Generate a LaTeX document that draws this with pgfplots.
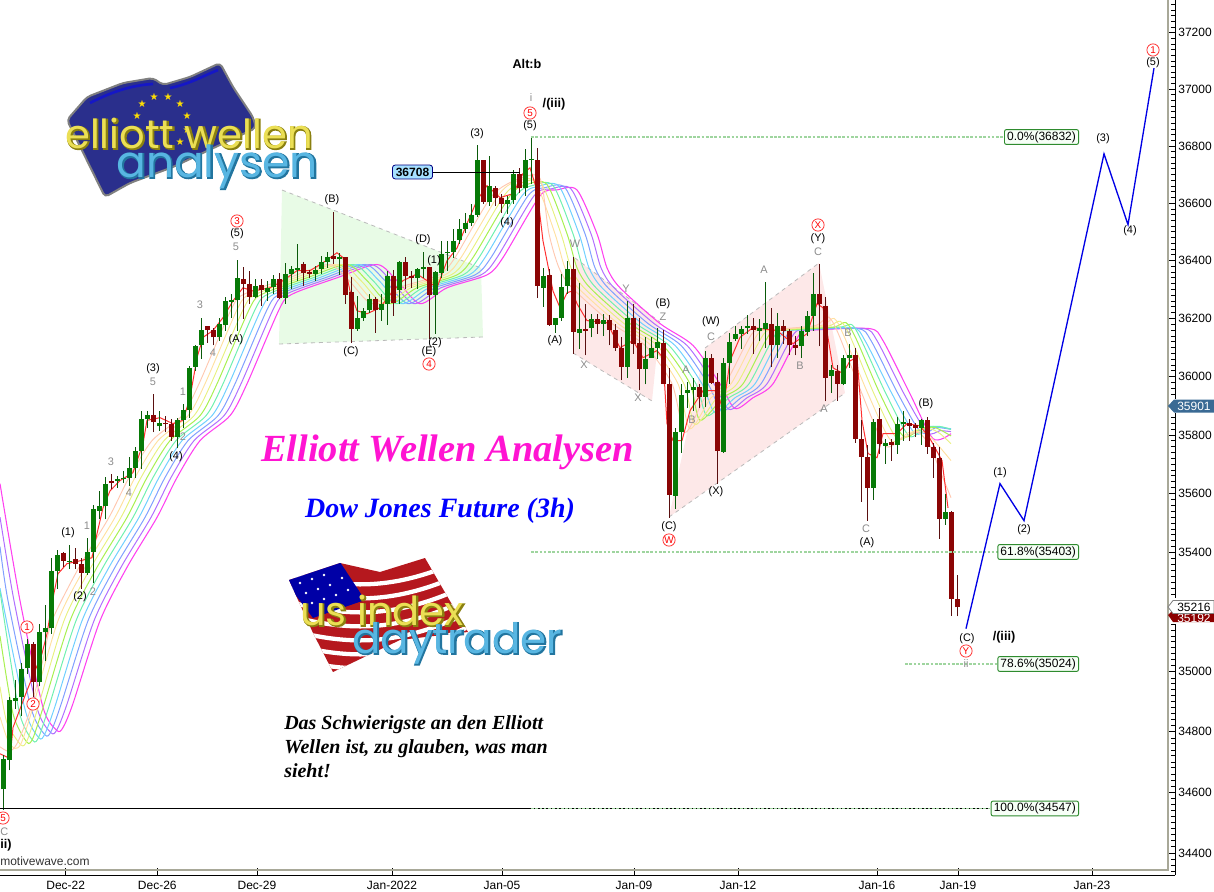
\documentclass[border=0pt]{standalone}
\usepackage{pgfplots}
\usepackage{pgfplotstable}
\usepackage{fontspec}
\pgfplotsset{compat=1.18}
\setmainfont{Liberation Sans}
\newfontfamily\timesf{Liberation Serif}
\newfontfamily\logof{Poppins}
\newfontfamily\logofat[FakeBold=4]{Poppins}
\newfontfamily\symf{DejaVu Sans}
\definecolor{upbody}{HTML}{077A07}
\definecolor{upwick}{HTML}{0A5A0A}
\definecolor{dnbody}{HTML}{8B0505}
\definecolor{dnwick}{HTML}{5A1010}
\definecolor{rb0}{HTML}{FF40F0}
\definecolor{rb1}{HTML}{B070FF}
\definecolor{rb2}{HTML}{80A0FF}
\definecolor{rb3}{HTML}{70D0FF}
\definecolor{rb4}{HTML}{70F0B0}
\definecolor{rb5}{HTML}{A8F050}
\definecolor{rb6}{HTML}{E8F080}
\definecolor{rb7}{HTML}{FFE0A0}
\definecolor{rb8}{HTML}{FFC8B0}
\definecolor{fast}{HTML}{FF3030}
\definecolor{fibg}{HTML}{9FD59F}
\definecolor{fibb}{HTML}{2E8B2E}
\definecolor{tri}{HTML}{E8FBE6}
\definecolor{chan}{HTML}{FDE8E8}
\definecolor{grl}{HTML}{8C8C8C}
\definecolor{axg}{HTML}{A8A898}
\definecolor{titlemag}{HTML}{FF14D2}
\definecolor{lastblue}{HTML}{3A6A94}
\definecolor{lgyel}{HTML}{EBDF55}
\definecolor{lgyeld}{HTML}{8A8010}
\definecolor{lgsky}{HTML}{58B6E2}
\definecolor{lgskyd}{HTML}{22759F}
\definecolor{euflag}{HTML}{2A2F8C}
\definecolor{stripe}{HTML}{B5181E}
% candles: x high bodytop bodybottom low
\pgfplotstableread{
x h t b l
3.5 34722 34709 34609 34543
9.5 34914 34904 34705 34672
15.5 34971 34911 34901 34877
21.5 35028 35008 34914 34851
27.5 35111 35094 35011 34994
39.5 35158 35131 34967 34951
45.5 35225 35148 35131 35034
51.5 35383 35339 35148 35128
57.5 35410 35393 35339 35278
69.5 35427 35373 35370 35346
87.5 35451 35404 35333 35326
93.5 35562 35546 35404 35296
99.5 35610 35559 35542 35515
105.5 35658 35634 35559 35512
117.5 35661 35651 35641 35620
123.5 35678 35654 35648 35637
129.5 35726 35688 35654 35627
135.5 35760 35746 35688 35654
141.5 35883 35852 35746 35685
147.5 35883 35869 35852 35825
159.5 35883 35842 35828 35814
177.5 35859 35849 35794 35753
183.5 35907 35886 35849 35825
189.5 36037 36030 35886 35859
195.5 36106 36103 36034 36020
201.5 36203 36161 36106 36061
219.5 36203 36182 36134 36123
225.5 36275 36261 36178 36158
231.5 36285 36264 36258 36203
237.5 36403 36341 36264 36158
255.5 36337 36313 36275 36270
267.5 36330 36306 36292 36261
273.5 36351 36337 36309 36285
285.5 36392 36354 36272 36251
291.5 36382 36372 36354 36303
297.5 36458 36375 36368 36330
315.5 36382 36368 36354 36330
321.5 36417 36396 36372 36354
327.5 36431 36413 36396 36375
339.5 36427 36413 36406 36351
357.5 36278 36203 36165 36158
363.5 36237 36227 36203 36192
369.5 36285 36268 36230 36220
381.5 36285 36247 36230 36192
387.5 36365 36348 36251 36178
399.5 36399 36396 36299 36251
417.5 36375 36372 36341 36303
423.5 36431 36379 36372 36341
435.5 36365 36361 36282 36147
441.5 36469 36424 36358 36341
447.5 36469 36431 36427 36365
453.5 36511 36469 36431 36410
459.5 36546 36511 36473 36459
465.5 36567 36532 36511 36494
471.5 36598 36560 36532 36521
477.5 36802 36749 36560 36553
489.5 36766 36661 36605 36591
507.5 36626 36609 36598 36563
513.5 36714 36703 36612 36598
525.5 36791 36752 36654 36626
531.5 36830 36756 36752 36668
543.5 36375 36348 36306 36240
555.5 36203 36203 36178 36151
561.5 36354 36309 36203 36192
567.5 36399 36372 36313 36285
579.5 36323 36165 36151 36096
591.5 36216 36199 36168 36134
603.5 36216 36196 36182 36140
627.5 36261 36203 36034 35996
645.5 36134 36061 36024 35972
651.5 36134 36099 36065 36065
657.5 36168 36120 36099 36061
675.5 35825 35808 35593 35549
681.5 35975 35938 35808 35739
687.5 35982 35955 35945 35893
693.5 35993 35965 35955 35883
705.5 36089 36065 35931 35896
723.5 36065 36048 35743 35739
729.5 36151 36120 36048 35975
735.5 36175 36147 36127 36123
741.5 36175 36165 36147 36096
747.5 36213 36175 36168 36147
759.5 36199 36168 36158 36123
765.5 36327 36185 36165 36099
777.5 36220 36175 36106 36065
801.5 36175 36158 36103 36065
807.5 36227 36209 36154 36140
813.5 36358 36285 36209 36158
831.5 36041 36021 36003 35945
843.5 36072 36065 35976 35969
849.5 36110 36075 36065 36030
873.5 35852 35845 35620 35579
885.5 35787 35773 35763 35702
897.5 35862 35838 35767 35736
903.5 35883 35845 35838 35780
921.5 35855 35849 35825 35767
945.5 35600 35539 35515 35495
}\upbars
\pgfplotstableread{
x h t b l
33.5 35101 35094 34967 34917
63.5 35404 35400 35373 35350
75.5 35417 35377 35363 35346
81.5 35383 35363 35333 35278
111.5 35668 35644 35637 35617
153.5 35941 35869 35845 35808
165.5 35866 35842 35838 35808
171.5 35852 35838 35794 35780
207.5 36175 36172 36161 36116
213.5 36168 36161 36134 36106
243.5 36379 36337 36320 36199
249.5 36365 36320 36275 36251
261.5 36337 36316 36296 36244
279.5 36358 36337 36272 36268
303.5 36396 36389 36358 36313
309.5 36368 36361 36354 36341
333.5 36570 36417 36406 36389
345.5 36413 36413 36282 36251
351.5 36344 36292 36165 36116
375.5 36275 36268 36230 36151
393.5 36368 36348 36254 36209
405.5 36413 36396 36348 36303
411.5 36365 36348 36341 36306
429.5 36379 36379 36282 36130
483.5 36749 36749 36605 36598
495.5 36661 36654 36619 36591
501.5 36630 36619 36598 36567
519.5 36724 36703 36654 36637
537.5 36795 36752 36313 36271
549.5 36372 36351 36178 36175
573.5 36413 36372 36154 36079
585.5 36251 36165 36158 36072
597.5 36216 36199 36182 36147
609.5 36213 36196 36161 36106
615.5 36182 36161 36099 36089
621.5 36134 36099 36034 35986
633.5 36251 36203 36113 36079
639.5 36203 36116 36024 35952
663.5 36161 36116 35975 35972
669.5 36030 35975 35596 35518
699.5 35975 35965 35931 35893
711.5 36079 36065 35979 35975
717.5 36013 35982 35746 35634
753.5 36203 36175 36161 36079
771.5 36237 36182 36106 36034
783.5 36196 36175 36158 36113
789.5 36165 36158 36106 36075
795.5 36140 36106 36099 36072
819.5 36389 36285 36247 36103
825.5 36275 36244 35996 35914
837.5 36041 36020 35976 35917
855.5 36099 36075 35787 35773
861.5 35849 35787 35726 35573
867.5 35767 35726 35620 35508
879.5 35893 35852 35770 35736
891.5 35787 35777 35767 35712
909.5 35855 35842 35831 35780
915.5 35842 35835 35825 35794
927.5 35862 35849 35760 35736
933.5 35773 35760 35722 35654
939.5 35760 35722 35515 35447
951.5 35542 35539 35245 35188
957.5 35326 35245 35215 35185
}\dnbars
% turn two columns of a candle table into broken vertical segments
\newcommand\segs[4]{%
  \pgfplotstablegetrowsof{#1}\pgfmathtruncatemacro\nr{\pgfplotsretval-1}%
  \gdef#4{}%
  \pgfplotsforeachungrouped \i in {0,...,\nr}{%
    \pgfplotstablegetelem{\i}{x}\of{#1}\let\cx\pgfplotsretval
    \pgfplotstablegetelem{\i}{#2}\of{#1}\let\ca\pgfplotsretval
    \pgfplotstablegetelem{\i}{#3}\of{#1}\let\cb\pgfplotsretval
    \xdef#4{#4(\cx,\ca)(\cx,\cb)(\cx,nan)}%
  }}
\segs{\upbars}{l}{h}{\upwickc}
\segs{\dnbars}{l}{h}{\dnwickc}
\segs{\upbars}{b}{t}{\upbodyc}
\segs{\dnbars}{b}{t}{\dnbodyc}
\newcommand\candleplot[3]{\edef\tmp{\noexpand\addplot[#1,line width=#2,unbounded coords=jump,forget plot] coordinates {#3};}\tmp}
% logo text: a heavy copy in the dark colour, the light one on top
\newcommand\outl[6]{%
  \node[anchor=base west,inner sep=0,text=#6,font=\logofat\fontsize{#3}{#3}\selectfont] at (#1+0.8,#2+1) {#4};
  \node[anchor=base west,inner sep=0,text=#5,font=\logof\fontsize{#3}{#3}\selectfont] at (#1,#2) {#4};}
\tikzset{fibline/.style={fibg,dash pattern=on 2pt off 1.2pt,line width=1.5pt}}
\begin{document}
\begin{tikzpicture}
\path[use as bounding box] (0,0) rectangle (910.5pt,-669pt);
\begin{scope}[x=0.75pt,y=-0.75pt]
  % wave structure shading, behind the chart
  \fill[tri] (282,190) -- (481,268) -- (483,337) -- (279,344) -- cycle;
  \draw[grl!60,dashed,line width=.6pt] (282,190) -- (481,268);
  \draw[grl!60,dashed,line width=.6pt] (279,344) -- (483,337);
  \fill[chan] (575,258) -- (660,322) -- (652,401) -- (573,353) -- cycle;
  \draw[grl!60,dashed,line width=.6pt] (575,258) -- (660,322);
  \draw[grl!60,dashed,line width=.6pt] (573,353) -- (652,401);
  \fill[chan] (669,517) -- (705,348) -- (819,263) -- (845,393) -- cycle;
  \draw[grl!60,dashed,line width=.6pt] (705,348) -- (819,263);
  \draw[grl!60,dashed,line width=.6pt] (669,517) -- (845,393);
\end{scope}
\begin{axis}[
  at={(0pt,-656.6pt)}, anchor=south west,
  scale only axis, width=881.25pt, height=656.25pt,
  % the price scale of the platform is logarithmic
  y coord trafo/.code={\begingroup\pgfkeys{/pgf/fpu=true,/pgf/fpu/output format=fixed}\pgfmathparse{10485*ln(#1/34326)}\pgfmathsmuggle\pgfmathresult\endgroup},
  xmin=0, xmax=1175, ymin=34326, ymax=37314,
  axis x line=bottom, axis y line=right,
  axis line style={-,black,line width=.75pt},
  tick align=inside, tick style={black,line width=.6pt},
  major tick length=5.25pt, minor tick length=2.8pt,
  scaled ticks=false,
  xtick={65.7,157.3,257,392,502,634,738,877,958,1092},
  xticklabels={Dec-22,Dec-26,Dec-29,Jan-2022,Jan-05,Jan-09,Jan-12,Jan-16,Jan-19,Jan-23},
  ytick={34400,34600,34800,35000,35200,35400,35600,35800,36000,36200,36400,36600,36800,37000,37200},
  yticklabels={34400,34600,34800,35000,35200,35400,35600,35800,36000,36200,36400,36600,36800,37000,37200},
  minor ytick={34340,34360,34380,34420,34440,34460,34480,34500,34520,34540,34560,34580,34620,34640,34660,34680,34700,34720,34740,34760,34780,34820,34840,34860,34880,34900,34920,34940,34960,34980,35020,35040,35060,35080,35100,35120,35140,35160,35180,35220,35240,35260,35280,35300,35320,35340,35360,35380,35420,35440,35460,35480,35500,35520,35540,35560,35580,35620,35640,35660,35680,35700,35720,35740,35760,35780,35820,35840,35860,35880,35900,35920,35940,35960,35980,36020,36040,36060,36080,36100,36120,36140,36160,36180,36220,36240,36260,36280,36300,36320,36340,36360,36380,36420,36440,36460,36480,36500,36520,36540,36560,36580,36620,36640,36660,36680,36700,36720,36740,36760,36780,36820,36840,36860,36880,36900,36920,36940,36960,36980,37020,37040,37060,37080,37100,37120,37140,37160,37180,37220,37240,37260,37280,37300},
  tick label style={font=\fontsize{9}{10}\selectfont},
  xticklabel style={yshift=-0.6pt},
  yticklabel style={xshift=-1pt},
  clip=true,
]
% ribbon, slowest first
\addplot[rb0,line width=.8pt,smooth,tension=.45] coordinates {(0,35634)(20,35238)(43,34881)(57,34804)(63,34814)(73,34894)(100,35171)(127,35350)(157,35519)(177,35654)(200,35780)(230,35866)(247,35975)(280,36237)(293,36285)(337,36341)(377,36386)(397,36330)(420,36251)(447,36306)(487,36351)(503,36410)(540,36626)(557,36647)(577,36647)(597,36493)(607,36375)(620,36306)(660,36182)(693,36106)(720,35975)(735,35890)(753,35927)(773,35975)(800,36147)(817,36161)(870,36165)(883,36123)(910,35941)(933,35787)(951,35804)};
\addplot[rb1,line width=.75pt,smooth,tension=.45] coordinates {(0,35520)(14,35238)(37,34880)(51,34797)(57,34808)(67,34892)(94,35171)(121,35350)(151,35519)(171,35654)(194,35780)(224,35866)(241,35975)(274,36237)(287,36285)(331,36341)(371,36386)(391,36330)(414,36251)(441,36306)(481,36351)(497,36410)(534,36626)(551,36650)(571,36650)(591,36493)(601,36375)(614,36306)(654,36182)(687,36106)(714,35975)(729,35887)(747,35927)(767,35975)(794,36147)(811,36161)(864,36165)(877,36123)(904,35941)(927,35808)(940,35814)(951,35811)};
\addplot[rb2,line width=.75pt,smooth,tension=.45] coordinates {(0,35420)(8,35238)(31,34880)(45,34790)(51,34800)(61,34890)(88,35171)(115,35350)(145,35519)(165,35654)(188,35780)(218,35866)(235,35975)(268,36237)(281,36285)(325,36341)(365,36386)(385,36330)(408,36251)(435,36306)(475,36351)(491,36410)(528,36626)(545,36654)(565,36654)(585,36493)(595,36375)(608,36306)(648,36182)(681,36106)(708,35975)(722,35883)(741,35927)(761,35975)(788,36147)(805,36161)(858,36165)(871,36123)(898,35941)(921,35808)(936,35825)(951,35818)};
\addplot[rb3,line width=.75pt,smooth,tension=.45] coordinates {(0,35280)(25,34875)(39,34780)(45,34795)(55,34885)(82,35171)(109,35350)(139,35519)(159,35654)(182,35780)(212,35866)(229,35975)(262,36237)(275,36285)(319,36341)(359,36386)(379,36330)(402,36251)(429,36306)(469,36351)(485,36410)(522,36626)(539,36660)(559,36660)(579,36493)(589,36375)(602,36306)(642,36182)(675,36106)(702,35975)(715,35876)(735,35927)(755,35975)(782,36147)(799,36161)(852,36168)(865,36123)(892,35941)(915,35804)(930,35828)(951,35821)};
\addplot[rb4,line width=.75pt,smooth,tension=.45] coordinates {(0,35270)(19,34870)(33,34770)(39,34785)(49,34885)(76,35171)(103,35350)(133,35519)(153,35654)(176,35780)(206,35866)(223,35975)(256,36237)(269,36285)(313,36341)(353,36386)(373,36330)(396,36251)(423,36306)(463,36351)(479,36410)(516,36626)(533,36662)(553,36662)(573,36493)(583,36375)(596,36306)(636,36182)(669,36106)(696,35975)(707,35866)(729,35927)(749,35975)(776,36147)(793,36161)(840,36170)(852,36178)(862,36120)(886,35941)(909,35797)(925,35825)(940,35828)(951,35818)};
\addplot[rb5,line width=.75pt,smooth,tension=.45] coordinates {(0,35120)(13,34860)(27,34765)(33,34780)(43,34880)(70,35171)(97,35350)(127,35519)(147,35654)(170,35780)(200,35866)(217,35975)(250,36237)(263,36285)(307,36341)(347,36386)(367,36330)(390,36251)(417,36306)(457,36351)(473,36410)(510,36626)(527,36665)(547,36665)(567,36493)(577,36375)(590,36306)(630,36182)(663,36106)(690,35975)(700,35849)(723,35927)(743,35975)(770,36147)(787,36161)(833,36170)(846,36185)(856,36130)(880,35941)(903,35797)(921,35821)(935,35825)(951,35797)};
\addplot[rb6,line width=.7pt,smooth,tension=.45] coordinates {(0,34950)(7,34830)(21,34755)(27,34770)(37,34870)(64,35171)(91,35350)(121,35519)(141,35654)(164,35780)(194,35866)(211,35975)(244,36237)(257,36285)(301,36341)(341,36386)(361,36330)(384,36251)(411,36306)(451,36351)(467,36410)(504,36626)(521,36670)(541,36670)(561,36493)(571,36375)(584,36306)(624,36182)(657,36106)(684,35975)(695,35835)(717,35927)(737,35975)(764,36147)(781,36161)(827,36172)(840,36190)(850,36140)(874,35941)(897,35787)(915,35814)(930,35821)(940,35804)(951,35770)};
\addplot[rb7,line width=.7pt,smooth,tension=.45] coordinates {(0,34850)(8,34770)(15,34745)(21,34760)(31,34860)(58,35171)(85,35350)(115,35519)(135,35654)(158,35780)(188,35866)(205,35975)(238,36237)(251,36285)(295,36341)(335,36386)(355,36330)(378,36251)(405,36306)(445,36351)(461,36410)(498,36626)(515,36675)(535,36675)(555,36493)(565,36375)(578,36306)(618,36182)(651,36106)(678,35975)(690,35821)(711,35927)(731,35975)(758,36147)(775,36161)(821,36175)(834,36200)(844,36140)(868,35941)(891,35780)(909,35808)(925,35808)(936,35773)(951,35712)};
\addplot[rb8,line width=.7pt,smooth,tension=.45] coordinates {(0,34750)(9,34735)(17,34760)(30,34870)(43,35040)(52,35171)(79,35350)(109,35519)(129,35654)(152,35780)(182,35866)(199,35975)(232,36237)(245,36285)(289,36341)(329,36386)(349,36330)(372,36251)(399,36306)(439,36351)(455,36410)(492,36626)(520,36686)(540,36686)(549,36493)(559,36375)(572,36306)(612,36182)(645,36106)(672,35975)(685,35808)(705,35927)(725,35975)(752,36147)(769,36161)(815,36175)(828,36205)(838,36150)(862,35941)(885,35763)(903,35790)(918,35808)(930,35763)(940,35678)(951,35586)};
\addplot[fast,line width=.75pt] coordinates {(0,34728)(10,34712)(13,34814)(27,34937)(42,35061)(47,35128)(53,35248)(58,35329)(67,35363)(80,35373)(92,35383)(97,35464)(103,35552)(110,35610)(120,35644)(133,35671)(143,35770)(147,35849)(160,35859)(173,35838)(183,35849)(190,35927)(197,36065)(203,36134)(213,36158)(223,36203)(233,36261)(243,36306)(253,36295)(270,36306)(283,36330)(297,36365)(310,36365)(323,36393)(337,36427)(343,36410)(350,36295)(357,36227)(367,36216)(380,36237)(393,36295)(403,36330)(417,36354)(427,36330)(437,36306)(447,36399)(457,36444)(467,36529)(477,36609)(487,36661)(500,36619)(513,36633)(523,36703)(530,36724)(537,36644)(543,36469)(553,36295)(560,36237)(567,36288)(572,36295)(577,36251)(587,36192)(607,36185)(620,36099)(633,36123)(643,36065)(657,36089)(663,36065)(667,35838)(673,35780)(682,35780)(690,35883)(703,35951)(717,35951)(723,35883)(730,36054)(740,36134)(753,36168)(777,36158)(793,36113)(807,36147)(817,36251)(823,36237)(833,36030)(843,36010)(850,36054)(857,36065)(862,35849)(868,35736)(877,35722)(883,35804)(897,35804)(907,35838)(920,35831)(930,35787)(942,35712)(948,35552)};
% candles
\candleplot{upwick}{.8pt}{\upwickc}
\candleplot{dnwick}{.8pt}{\dnwickc}
\candleplot{upbody}{3.6pt}{\upbodyc}
\candleplot{dnbody}{3.6pt}{\dnbodyc}
% retracement levels
\addplot[fibline] coordinates {(531,36832)(1004,36832)};
\addplot[fibline] coordinates {(531,35403)(998,35403)};
\addplot[fibline] coordinates {(905,35024)(998,35024)};
\addplot[black,line width=.75pt] coordinates {(0,34547)(990,34547)};
\addplot[fibg,dash pattern=on 2pt off 1.2pt,line width=.75pt] coordinates {(531,34547)(990,34547)};
\addplot[black,line width=.75pt] coordinates {(432,36708)(520,36708)};
% projected wave
\addplot[blue!90!black,line width=1pt] coordinates {(966,35144)(1000,35634)(1024,35508)(1104,36773)(1128,36525)(1154,37074)};
\end{axis}
\begin{scope}[x=0.75pt,y=-0.75pt]
  % inner grey frame lines of the price and time scales
  \draw[axg,line width=.9pt] (1168,0) -- (1168,870) -- (0,870);
  % value labels on the scale
  \fill[white] (1169,598) rectangle (1214,624);
  \fill[red!55!black,draw=none] (1168,615) -- (1173,610) -- (1214,610) -- (1214,622) -- (1173,622) -- cycle;
  \node[text=white,font=\fontsize{9}{10}\selectfont,anchor=west,inner sep=0] at (1177,618) {35192};
  \fill[white,draw=gray,line width=.6pt] (1168,607) -- (1173,600.5) -- (1214,600.5) -- (1214,613.5) -- (1173,613.5) -- cycle;
  \node[font=\fontsize{9}{10}\selectfont,anchor=west,inner sep=0] at (1177,607) {35216};
  \fill[white] (1169,399) rectangle (1214,413);
  \fill[lastblue] (1168,406) -- (1174,399.5) -- (1214,399.5) -- (1214,412.5) -- (1174,412.5) -- cycle;
  \node[text=white,font=\fontsize{9}{10}\selectfont,anchor=west,inner sep=0] at (1177,406) {35901};
  % boxes on the levels
  \tikzset{fibbox/.style={draw=fibb,fill=green!3,rounded corners=1.5pt,line width=.7pt,font=\fontsize{9}{10}\selectfont,inner xsep=2pt,inner ysep=1.4pt}}
  \node[fibbox,anchor=east] at (1079,137) {0.0\%(36832)};
  \node[fibbox,anchor=east] at (1079,552) {61.8\%(35403)};
  \node[fibbox,anchor=east] at (1079,664) {78.6\%(35024)};
  \node[fibbox,anchor=east] at (1079,808.5) {100.0\%(34547)};
  \node[draw=blue!50!black,fill=blue!35!cyan!35,rounded corners=2pt,line width=.6pt,font=\fontsize{9}{10}\selectfont\bfseries,inner xsep=2.5pt,inner ysep=2pt] at (412.5,172) {36708};
  % wave counts
  \foreach \x/\y/\t in {68/533/(1),80/597/(2),153/369/(3),176/457/(4),236/340/(A),237/234/(5),332/200/(B),351/352/(C),423/240/(D),434/261/(1),435/343/(2),429/352/(E),477/134/(3),507/223/(4),530/126/(5),555/341/(A),663/304/(B),711/322/(W),669/527/(C),716/492/(X),818/239/(Y),867/543/(A),926/404/(B),967/639/(C),1000/473/(1),1024/530/(2),1103/139/(3),1130/231/(4),1153/63/(5)}
    \node[font=\fontsize{8.2}{9}\selectfont,inner sep=0] at (\x,\y) {\t};
  \foreach \x/\y/\t in {111/462/3,129/493/4,87/526/1,93/592/2,153/382/5,183/392/1,183/437/2,200/305/3,213/353/4,236/247/5,575/244/W,584/365/X,626/289/Y,663/317/Z,638/398/X,686/370/A,692/420/B,711/337/C,764/270/A,800/366/B,818/252/C,848/333/B,824/409/A,866/529/C,531/98/i,966/664/ii}
    \node[text=grl,font=\fontsize{8.2}{9}\selectfont,inner sep=0] at (\x,\y) {\t};
  \node[text=grl,font=\fontsize{8.2}{9}\selectfont,inner sep=0,anchor=west] at (0,832) {C};
  \foreach \x/\y/\t in {27/627/1,33/704/2,237/221/3,429/364/4,530/113/5,669/540/W,818/225/X,966/651/Y,1153/50/1}
    \node[circle,draw=red!85!white,fill=white,text=red,line width=.55pt,inner sep=0,minimum size=9.2pt,font=\fontsize{7.4}{8}\selectfont] at (\x,\y) {\t};
  \node[circle,draw=red!85!white,fill=white,text=red,line width=.55pt,inner sep=0,minimum size=9.2pt,font=\fontsize{7.4}{8}\selectfont] at (3,818) {5};
  \node[font=\fontsize{9.5}{10}\selectfont\bfseries,inner sep=0] at (554,104) {/(iii)};
  \node[font=\fontsize{9.5}{10}\selectfont\bfseries,inner sep=0] at (1004,637) {/(iii)};
  \node[font=\fontsize{9.5}{10}\selectfont\bfseries,inner sep=0,anchor=west] at (0,845) {ii)};
  \node[font=\fontsize{9.5}{10}\selectfont\bfseries,inner sep=0] at (527,64) {Alt:b};
  \node[font=\fontsize{9}{10}\selectfont,text=black!80,inner sep=0,anchor=west] at (0,861) {motivewave.com};
  % headline texts
  \node[text=titlemag,font=\timesf\fontsize{28.8}{30}\selectfont\bfseries\itshape,inner sep=0] at (447.5,452) {Elliott Wellen Analysen};
  \node[text=blue,font=\timesf\fontsize{21}{24}\selectfont\bfseries\itshape,inner sep=0] at (440,511) {Dow Jones Future (3h)};
  \node[anchor=base west,font=\timesf\fontsize{15}{16}\selectfont\bfseries\itshape,inner sep=0] at (284,729) {Das Schwierigste an den Elliott};
  \node[anchor=base west,font=\timesf\fontsize{15}{16}\selectfont\bfseries\itshape,inner sep=0] at (284,753) {Wellen ist, zu glauben, was man};
  \node[anchor=base west,font=\timesf\fontsize{15}{16}\selectfont\bfseries\itshape,inner sep=0] at (284,777) {sieht!};
  % logo elliott wellen analysen
  \fill[euflag,draw=gray,line width=1.5pt,rounded corners=3pt] (67,120) -- (87,97) -- (123,83) -- (153,78) -- (163,85) -- (190,77) -- (220,63) -- (233,87) -- (253,117) -- (256,128) -- (173,167) -- (130,183) -- (105,197) -- cycle;
  \draw[blue!50!euflag,line width=2pt] (90,103) .. controls (115,90) and (135,85) .. (153,84);
  \draw[blue!50!euflag,line width=2pt] (170,88) .. controls (190,84) and (205,75) .. (218,70);
  \foreach \x/\y in {142/104,154/97,168/97,180/104,187/116,187/130,180/142,137/116}
    \node[text=yellow!80!orange,font=\symf\fontsize{7.5}{8}\selectfont,inner sep=0] at (\x,\y) {★};
  \outl{65}{148}{30}{elliott wellen}{lgyel}{lgyeld}
  \outl{116}{177}{33}{analysen}{lgsky}{lgskyd}
  % logo us index daytrader
  \begin{scope}
    \clip (289,580) -- (340,563) -- (380,572) -- (425,558) -- (468,632) -- (400,640) -- (333,672) -- (313,633) -- cycle;
    \fill[stripe] (280,550) rectangle (480,680);
    \foreach \d in {0,14,28,42,56,70,84,98}
      \draw[white,line width=3.2pt] (290,574+\d) .. controls (350,590+\d) and (400,590+\d) .. (470,556+\d);
    \fill[blue!65!black] (285,581) -- (340,562) -- (365,600) -- (313,618) -- cycle;
    \foreach \x/\y in {300/583,312/579,324/575,306/593,318/589,330/585,312/603,324/599,336/595,342/578,348/590}
      \fill[white] (\x,\y) circle (1pt);
  \end{scope}
  \outl{300}{625}{30}{us index}{lgyel}{lgyeld}
  \outl{352}{653}{31.5}{daytrader}{lgsky}{lgskyd}
\end{scope}
\end{tikzpicture}
\end{document}
